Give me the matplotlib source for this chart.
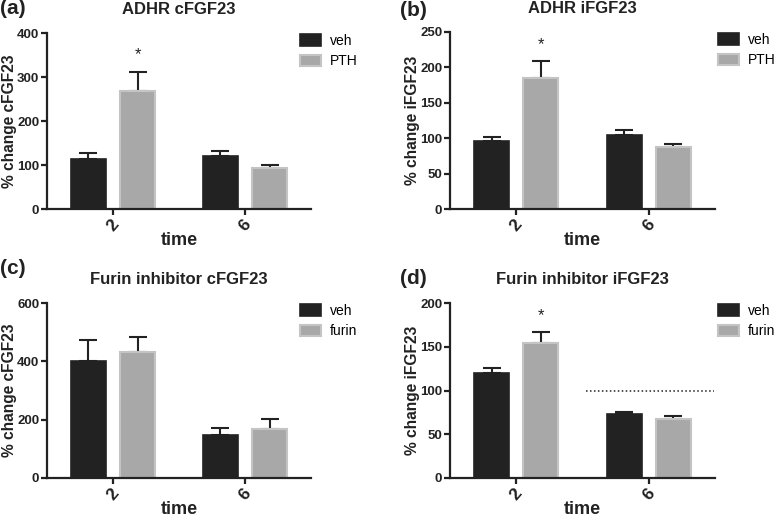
import numpy as np
import matplotlib
matplotlib.use("Agg")
import matplotlib.pyplot as plt

plt.rcParams['font.family'] = ['Liberation Sans', 'DejaVu Sans']

# data (time points 2 h and 6 h)
times = ['2', '6']

a_veh = [114, 121]
a_veh_err = [14, 11]
a_pth = [268, 92.5]
a_pth_err = [44, 7.5]

b_veh = [96, 104]
b_veh_err = [6, 7]
b_pth = [185, 87]
b_pth_err = [23.5, 5]

c_veh = [401, 146]
c_veh_err = [71, 27]
c_fur = [432, 168]
c_fur_err = [53, 34]

d_veh = [120, 73]
d_veh_err = [6, 3]
d_fur = [154, 67.5]
d_fur_err = [13, 3]

dark = '#222222'
grey = '#a8a8a8'
grey_edge = '#c4c4c4'

fig = plt.figure(figsize=(7.77, 5.21), dpi=100)
W, H = 777, 521


def make_ax(left, top, right, bottom):
    return fig.add_axes([left / W, 1 - bottom / H, (right - left) / W, (bottom - top) / H])


def panel(ax, veh, veh_err, trt, trt_err, trt_name, title, ylabel, yticks, stars):
    x = np.arange(len(times))
    off, w = 0.186, 0.265
    b1 = ax.bar(x - off, veh, w, color=dark, edgecolor=dark, linewidth=1.2, label='veh', zorder=2)
    b2 = ax.bar(x + off, trt, w, color=grey, edgecolor=grey_edge, linewidth=1.5, label=trt_name, zorder=2)
    ax.errorbar(x - off, veh, yerr=[np.zeros(len(veh)), veh_err], fmt='none', ecolor=dark,
                elinewidth=1.5, capsize=6.5, capthick=1.5, zorder=1)
    ax.errorbar(x + off, trt, yerr=[np.zeros(len(trt)), trt_err], fmt='none', ecolor=dark,
                elinewidth=1.5, capsize=6.5, capthick=1.5, zorder=1)
    for i in stars:
        ax.annotate('*', (x[i] + off, trt[i] + trt_err[i]), xytext=(0, 12), textcoords='offset points',
                    ha='center', va='center', fontsize=12, color=dark)
    ax.set_xlim(-0.5, 1.5)
    ax.set_ylim(0, yticks[-1])
    ax.set_yticks(yticks)
    ax.set_xticks(x)
    ax.set_xticklabels(times, rotation=50, fontsize=12.5, fontweight='bold', color=dark)
    for lab in ax.get_yticklabels():
        lab.set_fontweight('bold')
        lab.set_fontsize(9.5)
        lab.set_color(dark)
    ax.spines['top'].set_visible(False)
    ax.spines['right'].set_visible(False)
    for s in ['left', 'bottom']:
        ax.spines[s].set_linewidth(1.6)
        ax.spines[s].set_color(dark)
    ax.tick_params(axis='both', width=1.6, length=4.5, color=dark, pad=1)
    ax.set_xlabel('time', fontsize=13, fontweight='bold', color=dark, labelpad=-1)
    ax.set_ylabel(ylabel, fontsize=11.2, fontweight='bold', color=dark)
    ax.yaxis.set_label_coords(-30 / 264, 0.5)
    ax.set_title(title, fontsize=12, fontweight='bold', color=dark, pad=14)
    return b1, b2


ax_a = make_ax(47, 33, 311, 209)
ax_b = make_ax(450, 32, 715, 209)
ax_c = make_ax(47, 303, 311, 478)
ax_d = make_ax(450, 303, 715, 478)

panel(ax_a, a_veh, a_veh_err, a_pth, a_pth_err, 'PTH', 'ADHR cFGF23', '% change cFGF23',
      [0, 100, 200, 300, 400], [0])
panel(ax_b, b_veh, b_veh_err, b_pth, b_pth_err, 'PTH', 'ADHR iFGF23', '% change iFGF23',
      [0, 50, 100, 150, 200, 250], [0])
panel(ax_c, c_veh, c_veh_err, c_fur, c_fur_err, 'furin', 'Furin inhibitor cFGF23', '% change cFGF23',
      [0, 200, 400, 600], [])
panel(ax_d, d_veh, d_veh_err, d_fur, d_fur_err, 'furin', 'Furin inhibitor iFGF23', '% change iFGF23',
      [0, 50, 100, 150, 200], [0])

# dotted 100% reference line in panel (d)
ax_d.plot([0.53, 1.49], [100, 100], linestyle=(0, (1, 1.6)), color=dark, linewidth=1.1)

for ax, lx in [(ax_a, 0.958), (ax_b, 1.011), (ax_c, 0.958), (ax_d, 1.011)]:
    ax.legend(loc='upper left', bbox_to_anchor=(lx, 0.995), frameon=False, fontsize=10,
              handlelength=1.55, handleheight=0.9, handletextpad=0.6, labelspacing=0.45,
              borderpad=0, borderaxespad=0)

for txt, x, y in [('(a)', 0, 9), ('(b)', 400, 11), ('(c)', 0, 268), ('(d)', 400, 278)]:
    fig.text(x / W, 1 - y / H, txt, fontsize=15, fontweight='bold', color=dark, va='center', ha='left')

fig.savefig('out.png', dpi=100)
